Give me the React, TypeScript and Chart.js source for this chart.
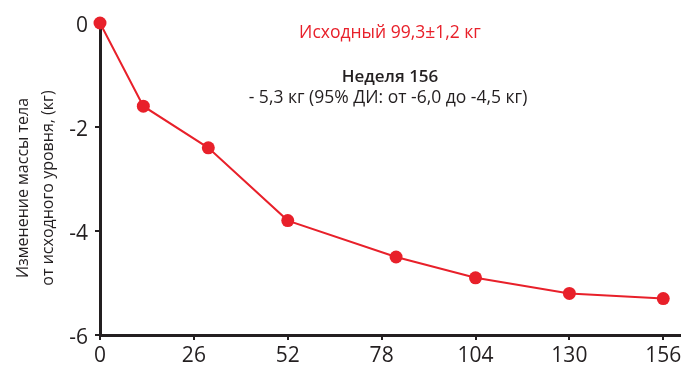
import React, { useEffect, useRef } from 'react';
import { Chart, registerables } from 'chart.js';

Chart.register(...registerables);

// ---- data ----
const weeks = [0, 12, 30, 52, 82, 104, 130, 156];
const weightChange = [0, -1.6, -2.4, -3.8, -4.5, -4.9, -5.2, -5.3];
const xTicks = [0, 26, 52, 78, 104, 130, 156];
const yTicks = [0, -2, -4, -6];
const yTitleLines = ['Изменение массы тела', 'от исходного уровня, (кг)'];
const baselineText = 'Исходный 99,3±1,2 кг';
const weekText = 'Неделя 156';
const resultText = '- 5,3 кг (95% ДИ: от -6,0 до -4,5 кг)';

const RED = '#e8202a';
const DARK = '#231f20';
const FONT = '"Open Sans", "DejaVu Sans", sans-serif';

const textPlugin = {
  id: 'textPlugin',
  afterDraw(chart: any) {
    const ctx = chart.ctx as CanvasRenderingContext2D;
    const area = chart.chartArea;
    const yScale = chart.scales.y;
    ctx.save();
    // y tick labels (drawn slightly lower, as in the reference)
    ctx.fillStyle = DARK;
    ctx.font = `21px ${FONT}`;
    ctx.textAlign = 'right';
    ctx.textBaseline = 'middle';
    yTicks.forEach((v) => {
      ctx.fillText(String(v), 88, yScale.getPixelForValue(v) + 3);
    });
    ctx.textAlign = 'center';
    // annotations
    ctx.fillStyle = RED;
    ctx.font = `500 17.5px ${FONT}`;
    ctx.fillText(baselineText, 390, 33);
    ctx.fillStyle = DARK;
    ctx.font = `600 17px ${FONT}`;
    ctx.fillText(weekText, 390, 77);
    ctx.font = `500 17.5px ${FONT}`;
    ctx.fillText(resultText, 388, 98);
    // y title
    ctx.font = `500 16px ${FONT}`;
    const cy = (area.top + area.bottom) / 2 + 9;
    const xs = [23, 48];
    yTitleLines.forEach((line, i) => {
      ctx.save();
      ctx.translate(xs[i], cy);
      ctx.rotate(-Math.PI / 2);
      ctx.fillText(line, 0, 0);
      ctx.restore();
    });
    ctx.restore();
  },
};

export default function App() {
  const ref = useRef<HTMLCanvasElement | null>(null);
  useEffect(() => {
    if (!ref.current) return;
    const chart = new Chart(ref.current, {
      type: 'scatter',
      data: {
        datasets: [
          {
            data: weeks.map((w, i) => ({ x: w, y: weightChange[i] })),
            showLine: true,
            borderColor: RED,
            borderWidth: 2,
            backgroundColor: RED,
            pointBackgroundColor: RED,
            pointBorderWidth: 0,
            pointRadius: 6.5,
            clip: false,
          } as any,
        ],
      },
      options: {
        responsive: false,
        animation: false,
        layout: { padding: { top: 23, right: 2, left: 0, bottom: 0 } },
        plugins: {
          legend: { display: false },
          tooltip: { enabled: false },
        },
        scales: {
          x: {
            type: 'linear',
            min: 0,
            max: 160.5,
            afterBuildTicks: (s: any) => {
              s.ticks = xTicks.map((v) => ({ value: v }));
            },
            afterFit: (s: any) => {
              s.height = 30;
            },
            grid: {
              drawOnChartArea: false,
              drawTicks: true,
              tickLength: 5,
              color: DARK,
              lineWidth: 2,
            },
            border: { display: true, color: DARK, width: 3 },
            ticks: {
              color: DARK,
              font: { family: FONT, size: 21 },
              padding: 3,
              maxRotation: 0,
              autoSkip: false,
            },
          },
          y: {
            type: 'linear',
            min: -6,
            max: 0,
            z: 1,
            afterBuildTicks: (s: any) => {
              s.ticks = yTicks.map((v) => ({ value: v }));
            },
            afterFit: (s: any) => {
              s.width = 100;
            },
            grid: {
              drawOnChartArea: false,
              drawTicks: true,
              tickLength: 5,
              color: DARK,
              lineWidth: 2,
            },
            border: { display: true, color: DARK, width: 3 },
            ticks: {
              display: false,
            },
          },
        },
      },
      plugins: [textPlugin],
    });
    return () => chart.destroy();
  }, []);
  return (
    <div style={{ position: 'fixed', left: 0, top: 0, width: 686, height: 365, background: '#fff' }}>
      <canvas ref={ref} width={686} height={365} style={{ display: 'block' }} />
    </div>
  );
}
